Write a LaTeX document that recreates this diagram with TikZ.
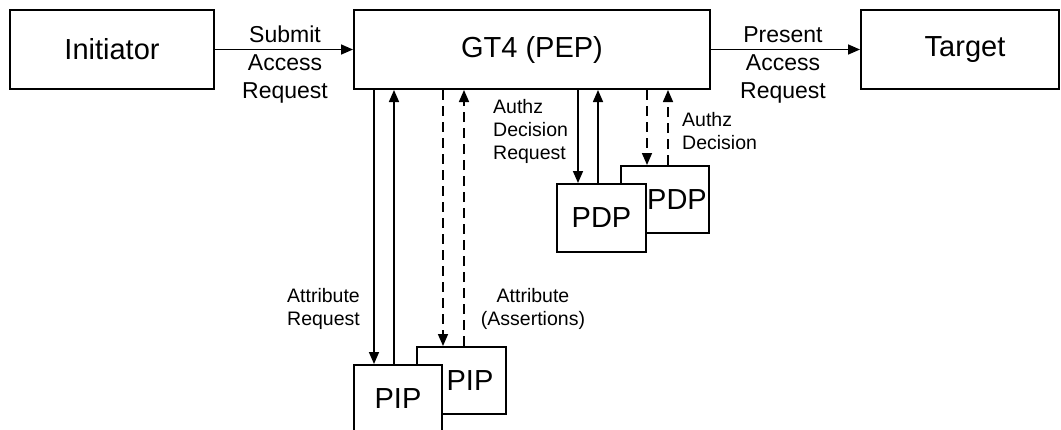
\documentclass[tikz,border=0pt]{standalone}
\usepackage{fontspec}
\setmainfont{Liberation Sans}
\usetikzlibrary{arrows.meta}
\begin{document}
\begin{tikzpicture}[x=1pt,y=-1pt,
  box/.style={draw=black,line width=2pt,fill=white,rectangle,inner sep=0pt,
    font=\fontsize{29}{33}\selectfont},
  conn/.style={line width=1.6pt,-{Triangle[length=12pt,width=10pt]}},
  dconn/.style={conn,dash pattern=on 10pt off 6pt},
  biglab/.style={align=center,inner sep=0pt,font=\fontsize{23}{28}\selectfont},
  smalllab/.style={inner sep=0pt,font=\fontsize{19.5}{23}\selectfont}]
\useasboundingbox (0,0) rectangle (1061,429);
\clip (0,0) rectangle (1061,429);
% top row
\node[box,minimum width=204pt,minimum height=79pt] (init) at (112,49.5) {Initiator};
\node[box,minimum width=356pt,minimum height=79pt] (pep) at (532,49.5) {GT4 (PEP)};
\node[box,minimum width=198pt,minimum height=79pt] (target) at (960,49.5) {\hspace*{10pt}Target};
% PDPs
\node[box,minimum width=88pt,minimum height=67pt] (pdpb) at (665,199.5) {\hspace*{24pt}PDP};
\node[box,minimum width=89pt,minimum height=68pt] (pdpf) at (601.5,218) {PDP};
% PIPs
\node[box,minimum width=89pt,minimum height=67pt] (pipb) at (461.5,380.5) {\hspace*{17pt}PIP};
\node[box,minimum width=88pt,minimum height=67pt] (pipf) at (398,398.5) {PIP};
% horizontal connectors
\draw[conn] (init.east) -- (pep.west);
\draw[conn] (pep.east) -- (target.west);
% PIP connectors
\draw[conn] ([xshift=21pt]pep.south west) -- ([xshift=21pt]pipf.north west);
\draw[conn] ([xshift=41pt]pipf.north west) -- ([xshift=41pt]pep.south west);
\draw[dconn] ([xshift=90pt]pep.south west) -- ([xshift=27pt]pipb.north west);
\draw[dconn] ([xshift=48pt]pipb.north west) -- ([xshift=111pt]pep.south west);
% PDP connectors
\draw[conn] ([xshift=225pt]pep.south west) -- ([xshift=22pt]pdpf.north west);
\draw[conn] ([xshift=42pt]pdpf.north west) -- ([xshift=245pt]pep.south west);
\draw[dconn] ([xshift=294pt]pep.south west) -- ([xshift=27pt]pdpb.north west);
\draw[dconn] ([xshift=48pt]pdpb.north west) -- ([xshift=315pt]pep.south west);
% labels
\node[biglab] (lsubmit) at (285,65) {Submit\\Access\\Request};
\node[biglab] (lpresent) at (783,65) {Present\\Access\\Request};
\node[smalllab,align=left,anchor=west] (ladr) at (493,131) {Authz\\Decision\\Request};
\node[smalllab,align=left,anchor=west] (lad) at (682,131.5) {Authz\\Decision};
\node[smalllab,align=left,anchor=west] (lar) at (287,308.5) {Attribute\\Request};
\node[smalllab,align=center] (laa) at (533,308.5) {Attribute\\(Assertions)};
\end{tikzpicture}
\end{document}
